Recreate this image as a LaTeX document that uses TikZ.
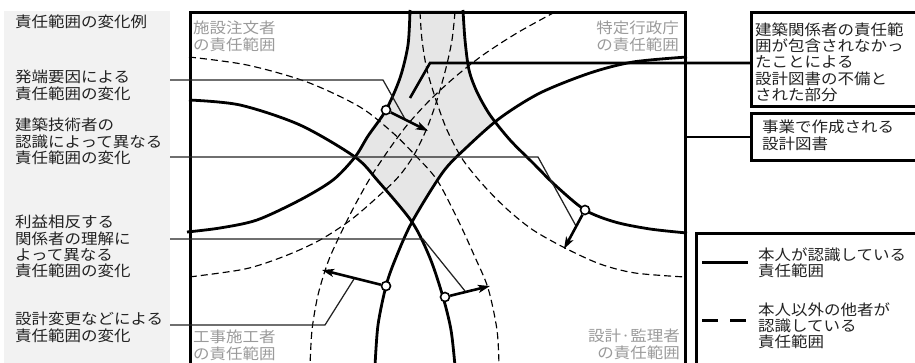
\documentclass[tikz,border=0pt]{standalone}
\usepackage{fontspec}
\setmainfont[FakeStretch=1.1]{Noto Sans CJK JP}
\usetikzlibrary{arrows.meta}
\definecolor{panelgray}{HTML}{F2F2F2}
\definecolor{zonegray}{HTML}{E6E6E6}
\definecolor{cornergray}{HTML}{9A9A9A}
\definecolor{inkgray}{HTML}{222222}
\newcommand{\lblfont}{\fontsize{15}{16.3}\selectfont}
\def\curveA{plot[smooth] coordinates {(189,100) (240,105) (300,125) (355,157) (378,181) (412,222) (430,258) (443,297) (451,330) (455,366)}}
\def\curveB{plot[smooth] coordinates {(410,10) (408,45) (400,78) (386,110) (368,136) (355,157) (333,180) (300,200) (257,220) (220,228) (187,232)}}
\def\curveC{plot[smooth] coordinates {(463,10) (465,40) (469,70) (477,92) (490,115) (510,140) (533,163) (555,185) (585,210) (615,222) (650,229) (687,233)}}
\def\curveD{plot[smooth] coordinates {(687,57) (633,62) (590,73) (540,93) (500,118) (467,147) (443,172) (412,222) (395,260) (386,286) (378,325) (375,366)}}
\begin{document}
\begin{tikzpicture}[x=1pt,y=-1pt,
  thickc/.style={line width=2.8pt, line join=round},
  dashc/.style={line width=1.15pt, dash pattern=on 7pt off 4pt},
  leader/.style={line width=1.25pt, draw=inkgray},
  boldleader/.style={line width=2.6pt, draw=black},
  frame/.style={line width=3pt, draw=black},
  lbl/.style={anchor=north west, inner sep=0pt, align=left, font=\lblfont, text=inkgray},
  corner/.style={inner sep=0pt, font=\lblfont, text=cornergray},
  ring/.style={circle, draw=black, fill=white, line width=1.6pt, minimum size=9pt, inner sep=0pt},
  arr/.style={line width=2.6pt, -{Stealth[length=12pt,width=8pt,inset=3pt]}}
]
\clip (0,0) rectangle (915,363);
% left panel
\fill[panelgray] (4,11) rectangle (170,370);

% shaded overlap zone
\begin{scope}
  \clip \curveB -- (187,370) -- (690,370) -- (690,10) -- cycle;
  \clip \curveA -- (690,370) -- (690,10) -- (187,10) -- cycle;
  \clip \curveD -- (187,370) -- (187,10) -- (690,10) -- cycle;
  \clip \curveC -- (690,370) -- (187,370) -- (187,10) -- cycle;
  \fill[zonegray] (187,10) rectangle (690,370);
\end{scope}

% dashed (others' recognition)
\draw[dashc] plot[smooth] coordinates {(189,57) (247,65) (307,82) (360,107) (393,133) (415,155) (437,180) (458,220) (474,255) (488,288) (497,330) (499,366)};
\draw[dashc] plot[smooth] coordinates {(455,12) (452,40) (446,68) (437,100) (427,128) (414,155) (400,175) (383,192) (352,219) (320,240) (285,256) (245,269) (189,277)};
\draw[dashc] plot[smooth] coordinates {(420,12) (422,40) (427,70) (436,100) (447,130) (463,160) (485,187) (508,210) (533,230) (565,248) (600,264) (635,273) (685,277)};
\draw[dashc] plot[smooth] coordinates {(555,12) (517,33) (483,55) (455,77) (430,100) (408,124) (390,148) (372,175) (355,205) (340,235) (328,262) (318,295) (312,330) (310,366)};

% solid (own recognition)
\draw[thickc] \curveA;
\draw[thickc] \curveB;
\draw[thickc] \curveC;
\draw[thickc] \curveD;

% main frame
\draw[frame] (190,370) -- (190,12.5) -- (685,12.5) -- (685,370);

% corner labels
\node[corner, anchor=north west, align=left] (g1) at (193,21) {施設注文者\\の責任範囲};
\node[corner, anchor=north east, align=right] (g2) at (679,21) {特定行政庁\\の責任範囲};
\node[corner, anchor=north west, align=left] (g3) at (193,330) {工事施工者\\の責任範囲};
\node[corner, anchor=north east, align=right] (g4) at (680,329) {設計·監理者\\の責任範囲};

% left labels
\node[lbl] (t0) at (15,15) {責任範囲の変化例};
\node[lbl] (l1) at (15,70) {発端要因による\\責任範囲の変化};
\node[lbl] (l2) at (15,118) {建築技術者の\\認識によって異なる\\責任範囲の変化};
\node[lbl] (l3) at (15,215) {利益相反する\\関係者の理解に\\よって異なる\\責任範囲の変化};
\node[lbl] (l4) at (15,312) {設計変更などによる\\責任範囲の変化};

% leader points
\coordinate (a1) at (170,80);   \coordinate (k1) at (383,80);   \coordinate (e1) at (405,119);
\coordinate (a2) at (170,157);  \coordinate (k2) at (538,157);  \coordinate (e2) at (576,226);
\coordinate (a3) at (170,239);  \coordinate (k3) at (423,239);  \coordinate (e3) at (465,291);
\coordinate (a4) at (170,325);  \coordinate (k4) at (325,325);  \coordinate (e4) at (354,279);
\draw[leader] (a1) -- (k1) -- (e1);
\draw[leader] (a2) -- (k2) -- (e2);
\draw[leader] (a3) -- (k3) -- (e3);
\draw[leader] (a4) -- (k4) -- (e4);

% rings and arrows
\node[ring] (cB) at (386,110) {};
\node[ring] (cC) at (585,210) {};
\node[ring] (cA) at (445,297) {};
\node[ring] (cD) at (386,286) {};
\coordinate (tB) at (428,131);
\coordinate (tC) at (564,249);
\coordinate (tA) at (490,286);
\coordinate (tD) at (322,270);
\draw[arr] (cB) -- (tB);
\draw[arr] (cC) -- (tC);
\draw[arr] (cA) -- (tA);
\draw[arr] (cD) -- (tD);

% right boxes
\node[lbl, anchor=north west] (r1) at (755,22.5) {建築関係者の責任範\\囲が包含されなかっ\\たことによる\\設計図書の不備と\\された部分};
\draw[frame] (930,13) -- (751,13) -- (751,106.5) -- (930,106.5);
\node[lbl, anchor=north west] (r2) at (762,120) {事業で作成される\\設計図書};
\draw[frame] (930,114) -- (751,114) -- (751,161) -- (930,161);
\coordinate (q1) at (430,63);
\coordinate (q1e) at (410,98);
\coordinate (b1) at (751,63);
\coordinate (b2) at (751,137);
\coordinate (m2) at (685,137);
\draw[boldleader] (b1) -- (q1) -- (q1e);
\draw[boldleader] (m2) -- (b2);

% legend
\draw[frame] (930,234) -- (696,234) -- (696,370);
\coordinate (s1) at (702,263); \coordinate (s2) at (748,263);
\coordinate (d1) at (702,320); \coordinate (d2) at (748,320);
\draw[line width=3pt] (s1) -- (s2);
\draw[line width=3pt, dash pattern=on 16pt off 12pt] (d1) -- (d2);
\node[lbl] (lg1) at (758,247.5) {本人が認識している\\責任範囲};
\node[lbl] (lg2) at (758,302.5) {本人以外の他者が\\認識している\\責任範囲};
\end{tikzpicture}
\end{document}
